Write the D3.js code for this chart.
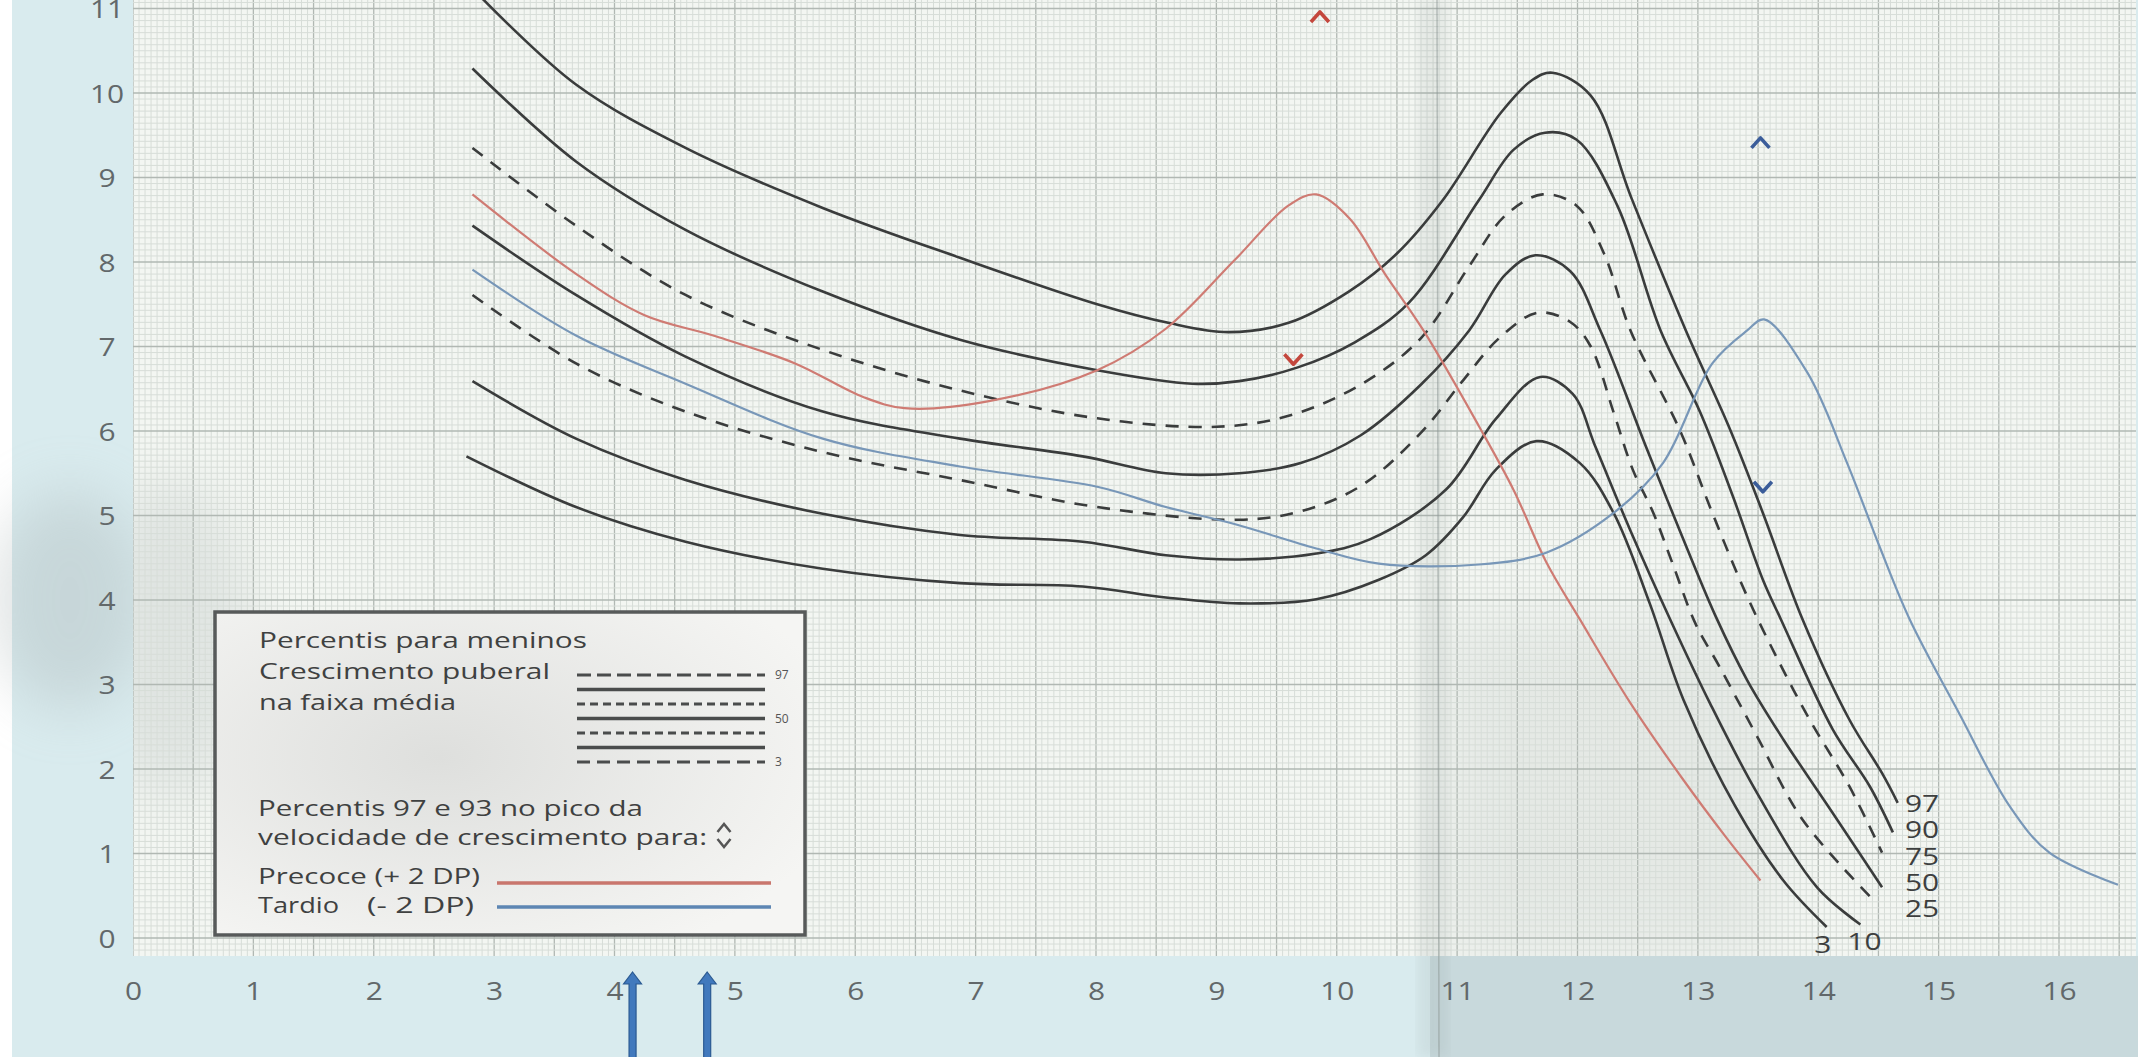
<!DOCTYPE html>
<html>
<head>
<meta charset="utf-8">
<script src="https://cdn.jsdelivr.net/npm/d3@7"></script>
<style>
html, body { margin: 0; padding: 0; background: #fff; overflow: hidden; }
svg { display: block; }
text { font-family: "Open Sans", "Noto Sans", sans-serif; }
</style>
</head>
<body>
<svg id="chart" width="2150" height="1057"></svg>
<script>
// tick labels
const ages = d3.range(0, 17)          // idade (anos)
const velTicks = d3.range(0, 12)      // velocidade (cm/ano)

// percentile curves [idade, velocidade]
const p97 = [[2.88,11.15],[3.68,10.10],[4.59,9.35],[5.73,8.64],[6.87,8.05],[8.01,7.50],[8.6,7.28],[9.1,7.17],[9.6,7.28],[10.1,7.65],[10.5,8.1],[10.88,8.73],[11.36,9.76],[11.63,10.16],[11.79,10.24],[12.11,9.97],[12.45,8.75],[12.90,7.19],[13.27,6.01],[13.54,5.03],[13.87,3.77],[14.26,2.58],[14.53,1.95],[14.66,1.60]]
const p90 = [[2.82,10.29],[3.68,9.19],[4.59,8.38],[5.73,7.65],[6.87,7.08],[8.01,6.72],[8.80,6.56],[9.19,6.59],[9.67,6.75],[10.15,7.05],[10.60,7.52],[11.18,8.73],[11.47,9.33],[11.73,9.53],[11.99,9.45],[12.33,8.67],[12.69,7.19],[13.02,6.22],[13.29,5.23],[13.54,4.24],[13.69,3.77],[14.12,2.47],[14.43,1.79],[14.62,1.25]]
const p75 = [[2.82,9.35],[3.68,8.43],[4.59,7.61],[5.73,6.96],[6.87,6.48],[8.01,6.15],[9.0,6.05],[9.6,6.18],[10.2,6.55],[10.7,7.1],[11.1,7.95],[11.4,8.55],[11.71,8.80],[11.99,8.67],[12.22,8.10],[12.44,7.19],[12.85,6.01],[13.12,5.03],[13.41,4.04],[13.68,3.25],[13.93,2.58],[14.26,1.79],[14.53,1.01]]
const p50 = [[2.82,8.43],[3.68,7.61],[4.59,6.88],[5.73,6.23],[6.87,5.91],[7.89,5.70],[8.58,5.50],[9.19,5.50],[9.7,5.62],[10.2,5.95],[10.7,6.55],[11.1,7.19],[11.4,7.85],[11.65,8.08],[11.94,7.89],[12.19,7.19],[12.57,5.81],[12.85,4.82],[13.15,3.80],[13.41,3.05],[13.71,2.35],[14.12,1.48],[14.53,0.60]]
const p25 = [[2.82,7.61],[3.68,6.80],[4.59,6.23],[5.73,5.75],[6.87,5.42],[8.01,5.10],[9.19,4.95],[9.7,5.05],[10.2,5.35],[10.7,5.98],[11.05,6.6],[11.35,7.1],[11.67,7.40],[11.94,7.29],[12.11,7.00],[12.30,6.22],[12.46,5.54],[12.63,5.03],[12.79,4.43],[12.98,3.72],[13.18,3.21],[13.49,2.39],[13.87,1.40],[14.43,0.49]]
const p10 = [[2.82,6.59],[3.68,5.91],[4.59,5.42],[5.73,5.02],[6.87,4.77],[7.89,4.69],[8.58,4.53],[9.19,4.48],[9.83,4.55],[10.28,4.72],[10.91,5.31],[11.32,6.14],[11.69,6.64],[11.96,6.44],[12.15,5.81],[12.44,4.82],[12.77,3.77],[13.10,2.78],[13.49,1.72],[13.99,0.60],[14.35,0.16]]
const p3 = [[2.77,5.70],[3.68,5.10],[4.59,4.69],[5.73,4.37],[6.87,4.20],[7.89,4.16],[8.58,4.03],[9.19,3.96],[9.83,4.01],[10.35,4.24],[10.74,4.53],[11.05,4.98],[11.32,5.54],[11.66,5.88],[12.02,5.62],[12.30,5.03],[12.60,3.96],[12.88,2.82],[13.31,1.56],[13.71,0.68],[14.07,0.13]]

// precoce (+2 DP) / tardio (-2 DP)
const precoce = [[2.82,8.80],[3.68,7.86],[4.25,7.37],[4.82,7.13],[5.50,6.80],[6.07,6.40],[6.41,6.27],[7.10,6.35],[8.01,6.72],[8.58,7.21],[9.15,8.02],[9.60,8.67],[9.83,8.80],[10.11,8.51],[10.40,7.86],[10.72,7.19],[11.18,6.06],[11.47,5.30],[11.74,4.45],[12.02,3.77],[12.44,2.78],[12.88,1.87],[13.23,1.20],[13.52,0.68]]
const tardio = [[2.82,7.91],[3.68,7.13],[4.59,6.56],[5.73,5.91],[6.87,5.58],[8.01,5.34],[8.58,5.10],[9.15,4.90],[9.83,4.61],[10.35,4.43],[11.18,4.42],[11.74,4.56],[12.30,5.03],[12.71,5.62],[13.12,6.80],[13.41,7.19],[13.55,7.32],[13.91,6.69],[14.24,5.62],[14.51,4.63],[14.76,3.77],[15.17,2.66],[15.59,1.56],[15.92,1.01],[16.49,0.63]]

// percentis 97 e 3 no pico (^ / v)
const precoceMarks = [[9.86,10.9,'up'],[9.64,6.85,'down']]
const tardioMarks = [[13.52,9.41,'up'],[13.54,5.34,'down']]

// blue arrows drawn under the x axis
const arrowAges = [4.15, 4.77]

const pctNames = ['97','90','75','50','25','10','3']
const legendTitle = ['Percentis para meninos', 'Crescimento puberal', 'na faixa média']
const legendPeak = ['Percentis 97 e 93 no pico da', 'velocidade de crescimento para:']

const W = 2150, H = 1057
const svg = d3.select('#chart')
const defs = svg.append('defs')

var x = d3.scaleLinear().domain([0, 16]).range([133, 2059])
var y = d3.scaleLinear().domain([0, 10]).range([938, 93])
const paper = {x0: 133, x1: 2136, y0: 0, y1: 956}

defs.append('filter').attr('id', 'soft').attr('x', '-50%').attr('y', '-50%').attr('width', '200%').attr('height', '200%')
    .append('feGaussianBlur').attr('stdDeviation', 28)
defs.append('filter').attr('id', 'softer').append('feGaussianBlur').attr('stdDeviation', 6)
defs.append('clipPath').attr('id', 'paperclip').append('rect')
    .attr('x', paper.x0).attr('y', paper.y0).attr('width', paper.x1 - paper.x0).attr('height', paper.y1 - paper.y0)

var lg = defs.append('radialGradient').attr('id', 'legbg').attr('cx', '38%').attr('cy', '45%').attr('r', '70%')
lg.append('stop').attr('offset', '0%').attr('stop-color', '#dedfdd')
lg.append('stop').attr('offset', '100%').attr('stop-color', '#f5f5f3')

// scan background
svg.append('rect').attr('width', W).attr('height', H).attr('fill', '#d9ebee')
svg.append('rect').attr('x', 0).attr('y', 0).attr('width', 12).attr('height', H).attr('fill', '#fff')
svg.append('ellipse').attr('cx', 70).attr('cy', 600).attr('rx', 80).attr('ry', 110)
    .attr('fill', '#a7b2b4').attr('opacity', 0.35).attr('filter', 'url(#soft)')
svg.append('rect').attr('x', 1430).attr('y', paper.y1).attr('width', W - 1430).attr('height', H - paper.y1)
    .attr('fill', '#c8d9dc')
svg.append('rect').attr('x', paper.x0).attr('y', paper.y0).attr('width', paper.x1 - paper.x0).attr('height', paper.y1 - paper.y0)
    .attr('fill', '#f3f6f2')
svg.append('rect').attr('x', 2138).attr('y', 0).attr('width', 12).attr('height', H).attr('fill', '#fff')

// shadows from the scan
var shade = svg.append('g').attr('clip-path', 'url(#paperclip)')
shade.append('ellipse').attr('cx', 170).attr('cy', 640).attr('rx', 80).attr('ry', 160)
    .attr('fill', '#b4bdbd').attr('opacity', 0.3).attr('filter', 'url(#soft)')
shade.append('rect').attr('x', 1440).attr('y', 620).attr('width', 330).attr('height', 340)
    .attr('fill', '#c3cac7').attr('opacity', 0.28).attr('filter', 'url(#soft)')

// graph paper grid (1 mm)
var grid = svg.append('g').attr('clip-path', 'url(#paperclip)')
var xk = d3.range(0, Math.floor(x.invert(paper.x1) * 20) + 1)
var yk = d3.range(Math.ceil(y.invert(paper.y1) * 14), Math.floor(y.invert(paper.y0) * 14) + 1)
grid.selectAll('line.gx').data(xk).enter().append('line').attr('class', 'gx')
    .attr('x1', d => x(d / 20)).attr('x2', d => x(d / 20))
    .attr('y1', paper.y0).attr('y2', paper.y1)
    .attr('stroke', d => d % 10 === 0 ? '#b1b8b3' : '#d7ddd8')
    .attr('stroke-width', d => d % 10 === 0 ? 1.3 : 1)
grid.selectAll('line.gy').data(yk).enter().append('line').attr('class', 'gy')
    .attr('y1', d => y(d / 14)).attr('y2', d => y(d / 14))
    .attr('x1', paper.x0).attr('x2', paper.x1)
    .attr('stroke', d => d % 14 === 0 ? '#b1b8b3' : '#d7ddd8')
    .attr('stroke-width', d => d % 14 === 0 ? 1.3 : 1)

// fold of the paper
svg.append('rect').attr('x', 1418).attr('y', 0).attr('width', 30).attr('height', H)
    .attr('fill', '#7f8b8a').attr('opacity', 0.12).attr('filter', 'url(#softer)')
svg.append('line').attr('x1', 1437).attr('x2', 1439).attr('y1', 0).attr('y2', H)
    .attr('stroke', '#8e9896').attr('stroke-width', 1.5).attr('opacity', 0.55)

// legend box
var leg = svg.append('g')
leg.append('rect').attr('x', 215).attr('y', 612).attr('width', 590).attr('height', 323)
    .attr('fill', 'url(#legbg)').attr('stroke', '#575a5a').attr('stroke-width', 3.5)

function stretchText(g, str, tx, ty, w, size, fill) {
    return g.append('text').attr('x', tx).attr('y', ty)
        .attr('font-size', size).attr('fill', fill || '#3f4141')
        .attr('textLength', w).attr('lengthAdjust', 'spacingAndGlyphs')
        .text(str)
}
var titleW = [328, 291, 197]
legendTitle.forEach((t, i) => stretchText(leg, t, 259, 648 + i * 31, titleW[i], 22))
var peakW = [385, 449]
legendPeak.forEach((t, i) => stretchText(leg, t, 258, 816 + i * 29, peakW[i], 22))
stretchText(leg, 'Precoce (+ 2 DP)', 258, 884, 222, 22)
stretchText(leg, 'Tardio', 258, 913, 81, 22)
stretchText(leg, '(- 2 DP)', 367, 913, 107, 22)

var rowDash = ['14,6', null, '8,5', null, '8,5', null, '13,7']
leg.selectAll('line.row').data(rowDash).enter().append('line').attr('class', 'row')
    .attr('x1', 577).attr('x2', 765)
    .attr('y1', (d, i) => 675 + i * 14.5).attr('y2', (d, i) => 675 + i * 14.5)
    .attr('stroke', '#4a4c4c').attr('stroke-width', (d, i) => d ? 3 : 3.4)
    .attr('stroke-dasharray', d => d)
;[['97', 0], ['50', 3], ['3', 6]].forEach(r => {
    leg.append('text').attr('x', 775).attr('y', 675 + r[1] * 14.5 + 4)
        .attr('font-size', 12).attr('fill', '#555').text(r[0])
})
function chevron(cx, cy, dir, w, h) {
    var s = dir === 'up' ? 1 : -1
    return 'M' + (cx - w / 2) + ',' + (cy + s * h / 2) + 'L' + cx + ',' + (cy - s * h / 2) + 'L' + (cx + w / 2) + ',' + (cy + s * h / 2)
}
leg.append('path').attr('d', chevron(724, 828, 'up', 13, 8)).attr('fill', 'none').attr('stroke', '#555').attr('stroke-width', 2.5)
leg.append('path').attr('d', chevron(724, 843, 'down', 13, 8)).attr('fill', 'none').attr('stroke', '#555').attr('stroke-width', 2.5)
leg.append('line').attr('x1', 497).attr('x2', 771).attr('y1', 883).attr('y2', 883)
    .attr('stroke', '#c9766d').attr('stroke-width', 3.5)
leg.append('line').attr('x1', 497).attr('x2', 771).attr('y1', 907).attr('y2', 907)
    .attr('stroke', '#5d86b3').attr('stroke-width', 3.5)

// curves
const black = '#3a3c3c'
var seriesTable = [
    {name: '97', pts: p97, color: black, dash: null},
    {name: '90', pts: p90, color: black, dash: null},
    {name: '75', pts: p75, color: black, dash: '13,10'},
    {name: '50', pts: p50, color: black, dash: null},
    {name: '25', pts: p25, color: black, dash: '13,10'},
    {name: '10', pts: p10, color: black, dash: null},
    {name: '3', pts: p3, color: black, dash: null},
    {name: 'precoce', pts: precoce, color: '#cf7b73', dash: null},
    {name: 'tardio', pts: tardio, color: '#7897b8', dash: null}
]
var line = d3.line()
    .x(d => x(d[0]))
    .y(d => y(d[1]))
    .curve(d3.curveCatmullRom.alpha(0.5))

var curves = svg.append('g').attr('clip-path', 'url(#paperclip)')
curves.selectAll('path').data(seriesTable).enter().append('path')
    .attr('d', d => line(d.pts))
    .attr('fill', 'none')
    .attr('stroke', d => d.color)
    .attr('stroke-width', d => d.color === black ? 2.6 : 2.2)
    .attr('stroke-dasharray', d => d.dash)

// peak markers
function marks(data, color) {
    svg.append('g').selectAll('path').data(data).enter().append('path')
        .attr('d', d => chevron(x(d[0]), y(d[1]), d[2], 18, 10))
        .attr('fill', 'none').attr('stroke', color).attr('stroke-width', 3.6)
        .attr('stroke-linejoin', 'round')
}
marks(precoceMarks, '#c4473d')
marks(tardioMarks, '#3b5d9a')

// percentile labels at the end of the curves
var lab = svg.append('g')
pctNames.forEach((n, i) => {
    var last = seriesTable[i].pts[seriesTable[i].pts.length - 1]
    var tx, ty, anchor
    if (i < 5) { tx = x(14.72); ty = y(1.6) + i * 26.4 + 9; anchor = 'start' }
    else { tx = x(last[0]) + (i === 5 ? 4 : -4); ty = y(last[1]) + 26; anchor = 'middle' }
    lab.append('text')
        .attr('transform', 'translate(' + tx + ',' + ty + ') scale(1.3,1)')
        .attr('text-anchor', anchor)
        .attr('font-size', 23).attr('fill', '#3d3f3f')
        .text(n)
})

// axes
var x_axis = d3.axisBottom(x).tickValues(ages).tickSize(0).tickFormat(d3.format('d'))
var y_axis = d3.axisLeft(y).tickValues(velTicks).tickSize(0).tickFormat(d3.format('d'))

var gx = svg.append('g').attr('transform', 'translate(0,991)').call(x_axis)
var gy = svg.append('g').attr('transform', 'translate(107,0)').call(y_axis)
;[gx, gy].forEach(g => {
    g.select('.domain').remove()
    g.selectAll('text')
        .attr('x', 0).attr('y', 0).attr('dy', '0.36em')
        .attr('text-anchor', 'middle')
        .attr('transform', 'scale(1.15,1)')
        .attr('font-family', '"Open Sans", sans-serif')
        .attr('font-size', 26)
        .attr('fill', '#62686a')
})

// blue arrows under the axis
var arr = svg.append('g')
arrowAges.forEach(a => {
    var cx = x(a), tip = 972
    var p = 'M' + cx + ',' + tip + 'L' + (cx + 9) + ',' + (tip + 12) + 'L' + (cx + 3.5) + ',' + (tip + 12) +
            'L' + (cx + 3.5) + ',' + (H + 2) + 'L' + (cx - 3.5) + ',' + (H + 2) + 'L' + (cx - 3.5) + ',' + (tip + 12) +
            'L' + (cx - 9) + ',' + (tip + 12) + 'Z'
    arr.append('path').attr('d', p).attr('fill', '#4179bd').attr('stroke', '#2b5a92').attr('stroke-width', 1.2)
})
</script>
</body>
</html>
